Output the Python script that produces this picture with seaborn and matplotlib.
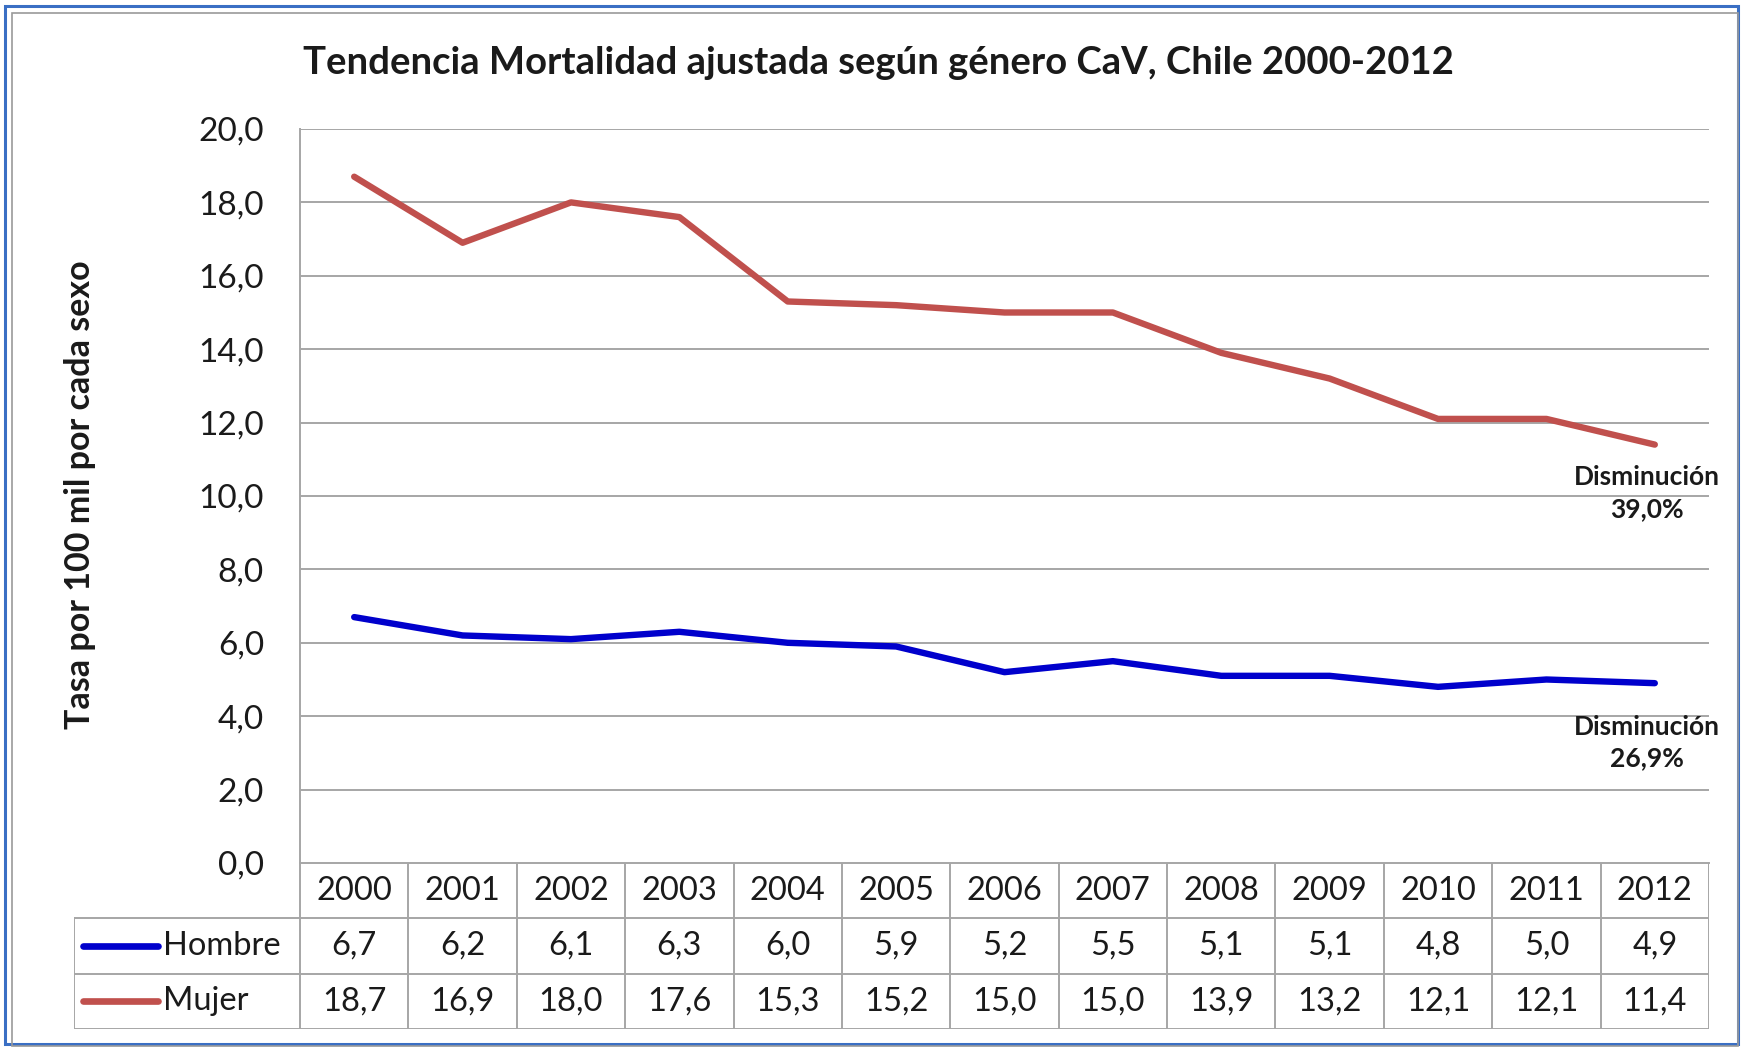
import pandas as pd
import seaborn as sns
import matplotlib.pyplot as plt
from matplotlib.patches import Rectangle

# Data
years = ['2000', '2001', '2002', '2003', '2004', '2005', '2006',
         '2007', '2008', '2009', '2010', '2011', '2012']
hombre = [6.7, 6.2, 6.1, 6.3, 6.0, 5.9, 5.2, 5.5, 5.1, 5.1, 4.8, 5.0, 4.9]
mujer = [18.7, 16.9, 18.0, 17.6, 15.3, 15.2, 15.0, 15.0, 13.9, 13.2, 12.1, 12.1, 11.4]
seriesNames = ['Hombre', 'Mujer']
seriesColors = ['#0000CC', '#C0504D']
yTicks = [0, 2, 4, 6, 8, 10, 12, 14, 16, 18, 20]
notes = ['Disminución\n39,0%', 'Disminución\n26,9%']

def fmt(v):
    return f"{v:.1f}".replace('.', ',')

sns.set_theme(style="white")
plt.rcParams['font.family'] = ['Lato', 'DejaVu Sans']

df = pd.DataFrame({
    'pos': list(range(len(years))) * 2,
    'valor': hombre + mujer,
    'sexo': ['Hombre'] * len(years) + ['Mujer'] * len(years),
})
df['pos'] = df['pos'] + 0.5

fig = plt.figure(figsize=(17.43, 10.48), dpi=100)
gray = '#A6A6A6'
txt = '#1a1a1a'
fs = 24

# main plot area
ax = fig.add_axes([300 / 1743, 185 / 1048, 1409 / 1743, 734 / 1048])
sns.lineplot(data=df, x='pos', y='valor', hue='sexo', palette=dict(zip(seriesNames, seriesColors)),
             linewidth=4.6, legend=False, ax=ax)
ax.set_xlim(0, len(years))
ax.set_ylim(0, 20)
ax.set_yticks(yTicks)
ax.set_yticklabels([fmt(v) for v in yTicks], fontsize=fs, color=txt)
ax.set_xticks([])
ax.set_xlabel('')
ax.set_ylabel('')
ax.tick_params(axis='y', length=0, pad=26)
for v in yTicks[1:]:
    ax.axhline(v, color=gray, lw=1.4, zorder=0)
for side in ['top', 'right']:
    ax.spines[side].set_visible(False)
for side in ['left', 'bottom']:
    ax.spines[side].set_color(gray)
    ax.spines[side].set_linewidth(1.4)

ax.text(12.43, 10.07, notes[0], ha='center', va='center', fontsize=19,
        fontweight='bold', linespacing=1.4, color=txt)
ax.text(12.43, 3.28, notes[1], ha='center', va='center', fontsize=19,
        fontweight='bold', linespacing=1.4, color=txt)

fig.text(790 * 1.1116 / 1743, 1 - 57 * 1.1116 / 1048,
         'Tendencia Mortalidad ajustada según género CaV, Chile 2000-2012',
         ha='center', va='center', fontsize=27.5, fontweight='bold', color=txt)
fig.text(80 / 1743, 1 - 495 / 1048, 'Tasa por 100 mil por cada sexo',
         rotation=90, ha='center', va='center', fontsize=24.5, fontweight='bold', color=txt)

# data table below the plot
tab = fig.add_axes([74 / 1743, 19 / 1048, 1635 / 1743, 166 / 1048])
labW = 226 / 108.4
tab.set_xlim(-labW, len(years))
tab.set_ylim(0, 3)
tab.axis('off')
for yv in [0, 1, 2]:
    tab.plot([-labW, len(years)], [yv, yv], color=gray, lw=1.4)
for i in range(len(years) + 1):
    tab.plot([i, i], [0, 3], color=gray, lw=1.4)
tab.plot([-labW, -labW], [0, 2], color=gray, lw=1.4)
for i, yr in enumerate(years):
    tab.text(i + 0.5, 2.5, yr, ha='center', va='center', fontsize=fs - 0.5, color=txt)
    tab.text(i + 0.5, 1.5, fmt(hombre[i]), ha='center', va='center', fontsize=fs - 0.5, color=txt)
    tab.text(i + 0.5, 0.5, fmt(mujer[i]), ha='center', va='center', fontsize=fs - 0.5, color=txt)
for r, (name, col) in enumerate(zip(seriesNames, seriesColors)):
    yv = 1.5 - r
    tab.plot([-2.0, -1.31], [yv, yv], color=col, lw=4.8, solid_capstyle='round')
    tab.text(-1.26, yv, name, ha='left', va='center', fontsize=fs - 0.5, color=txt)

# frame around the whole chart
fig.patches.append(Rectangle((0.003, 0.004), 0.994, 0.99, transform=fig.transFigure,
                             fill=False, edgecolor='#3A6FC4', lw=2.2))
fig.patches.append(Rectangle((0.007, 0.002), 0.99, 0.986, transform=fig.transFigure,
                             fill=False, edgecolor='#9A9A9A', lw=1.2))

fig.savefig('out.png', dpi=100)
